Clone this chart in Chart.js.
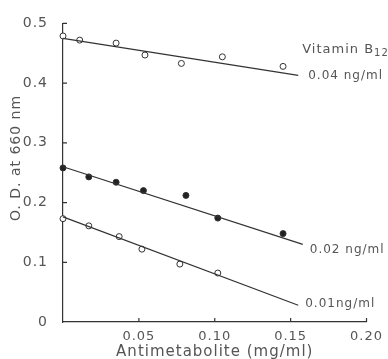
<!DOCTYPE html>
<html>
<head>
<meta charset="utf-8">
<script src="https://cdn.jsdelivr.net/npm/chart.js@4.4.1/dist/chart.umd.min.js"></script>
<style>
  html, body { margin: 0; padding: 0; background: #fff; }
  #wrap { width: 388px; height: 359px; }
</style>
</head>
<body>
<div id="wrap"><canvas id="odChart"></canvas></div>
<script>
/* ---------- DATA ---------- */
const xTicks = [0.05, 0.10, 0.15, 0.20];
const yTicks = [0, 0.1, 0.2, 0.3, 0.4, 0.5];

const x04 = [0, 0.011, 0.035, 0.054, 0.078, 0.105, 0.145];
const y04 = [0.479, 0.472, 0.467, 0.447, 0.433, 0.444, 0.428];

const x02 = [0, 0.017, 0.035, 0.053, 0.081, 0.102, 0.145];
const y02 = [0.258, 0.243, 0.234, 0.220, 0.212, 0.174, 0.148];

const x01 = [0, 0.017, 0.037, 0.052, 0.077, 0.102];
const y01 = [0.173, 0.161, 0.143, 0.122, 0.097, 0.082];

// fitted lines, start/end
const fitX04 = [0, 0.155];
const fit04 = [0.475, 0.413];
const fitX02 = [0, 0.158];
const fit02 = [0.260, 0.130];
const fitX01 = [0, 0.155];
const fit01 = [0.176, 0.028];

const lineLabels = ["0.04 ng/ml", "0.02 ng/ml", "0.01ng/ml"];

/* ---------- HELPERS ---------- */
const ink = "#333";
const textInk = "#555";
const font = "'DejaVu Sans', sans-serif";

const pts = (xs, ys) => xs.map((x, i) => ({ x: x, y: ys[i] }));

function fitSet(xs, ys) {
  return {
    type: "line",
    data: pts(xs, ys),
    borderColor: ink,
    borderWidth: 1.2,
    pointRadius: 0,
    fill: false,
    clip: false
  };
}

function dotSet(xs, ys, filled) {
  return {
    type: "scatter",
    data: pts(xs, ys),
    pointRadius: 3,
    pointBorderWidth: 1,
    pointBorderColor: ink,
    pointBackgroundColor: filled ? "#222" : "#fff",
    clip: false
  };
}

/* ---------- EXTRA DRAWING: inward ticks, y title, line labels ---------- */
const decor = {
  id: "decor",
  beforeDraw(chart) {
    chart.ctx.letterSpacing = "1px";
  },
  afterDraw(chart) {
    const ctx = chart.ctx;
    const xs = chart.scales.x, ys = chart.scales.y;
    const area = chart.chartArea;
    ctx.save();
    ctx.strokeStyle = ink;
    ctx.lineWidth = 1.2;
    ctx.beginPath();
    yTicks.slice(1).forEach(v => {
      const py = ys.getPixelForValue(v);
      ctx.moveTo(area.left, py);
      ctx.lineTo(area.left + 4, py);
    });
    xTicks.forEach(v => {
      const px = xs.getPixelForValue(v);
      ctx.moveTo(px, area.bottom);
      ctx.lineTo(px, area.bottom - 4);
    });
    ctx.stroke();

    // y axis title
    ctx.fillStyle = textInk;
    ctx.font = "14px " + font;
    ctx.textAlign = "center";
    ctx.textBaseline = "middle";
    ctx.translate(16, 158);
    ctx.rotate(-Math.PI / 2);
    ctx.fillText("O. D. at 660 nm", 0, 0);
    ctx.setTransform(1, 0, 0, 1, 0, 0);

    // labels at line ends
    ctx.font = "12px " + font;
    ctx.textAlign = "left";
    const ends = [
      [fitX04[1], fit04[1], 10, 1],
      [fitX02[1], fit02[1], 7, 6],
      [fitX01[1], fit01[1], 7, -1]
    ];
    ends.forEach((e, i) => {
      const px = xs.getPixelForValue(e[0]);
      const py = ys.getPixelForValue(e[1]);
      ctx.fillText(lineLabels[i], px + e[2], py + e[3]);
    });

    // "Vitamin B12" heading above the top label
    const hx = xs.getPixelForValue(fitX04[1]) + 4;
    const hy = ys.getPixelForValue(fit04[1]) - 26;
    ctx.font = "13px " + font;
    ctx.fillText("Vitamin B", hx, hy);
    const w = ctx.measureText("Vitamin B").width;
    ctx.font = "10px " + font;
    ctx.fillText("12", hx + w, hy + 4);
    ctx.restore();
  }
};

/* ---------- CHART ---------- */
new Chart(document.getElementById("odChart"), {
  data: {
    datasets: [
      fitSet(fitX04, fit04),
      fitSet(fitX02, fit02),
      fitSet(fitX01, fit01),
      dotSet(x04, y04, false),
      dotSet(x02, y02, true),
      dotSet(x01, y01, false)
    ]
  },
  options: {
    responsive: true,
    maintainAspectRatio: false,
    animation: false,
    layout: { padding: { top: 18, right: 15, left: 0, bottom: 0 } },
    plugins: {
      legend: { display: false },
      tooltip: { enabled: false }
    },
    scales: {
      x: {
        type: "linear",
        min: 0,
        max: 0.2,
        afterBuildTicks: s => { s.ticks = xTicks.map(v => ({ value: v })); },
        afterFit: s => { s.height = 37; },
        grid: { display: false, drawTicks: false },
        border: { display: true, color: ink, width: 1.2 },
        ticks: {
          padding: 7,
          color: textInk,
          font: { family: font, size: 13 },
          callback: v => v.toFixed(2)
        },
        title: {
          display: true,
          text: "Antimetabolite (mg/ml)",
          color: textInk,
          font: { family: font, size: 15 },
          padding: { top: 0, bottom: -2 }
        }
      },
      y: {
        type: "linear",
        min: 0,
        max: 0.5,
        afterBuildTicks: s => { s.ticks = yTicks.map(v => ({ value: v })); },
        afterFit: s => { s.width = 63; },
        grid: { display: false, drawTicks: false },
        border: { display: true, color: ink, width: 1.2 },
        ticks: {
          padding: 15,
          color: textInk,
          font: { family: font, size: 14 },
          callback: v => (v === 0 ? "0" : v.toFixed(1))
        }
      }
    }
  },
  plugins: [decor]
});
</script>
</body>
</html>
